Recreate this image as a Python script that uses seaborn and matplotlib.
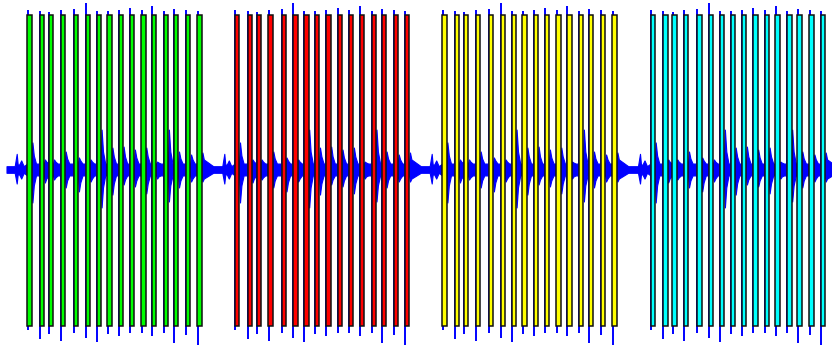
import numpy as np
import pandas as pd
import matplotlib
matplotlib.use("Agg")
import matplotlib.pyplot as plt
import seaborn as sns

# ---- data (time in seconds, amplitude in full-scale units) ----
onset_offsets = [0.000, 0.125, 0.216, 0.333, 0.465, 0.582, 0.692, 0.800,
                 0.912, 1.025, 1.139, 1.247, 1.365, 1.466, 1.587, 1.700]
loop_starts = [0.277, 2.353, 4.427, 6.510]
loop_names = ["loop 1", "loop 2", "loop 3", "loop 4"]
loop_colors = ["#00ff00", "#ff0000", "#ffff00", "#00ffff"]

spike_top = [0.970, 0.964, 0.958, 0.970, 0.976, 1.012, 0.964, 0.964,
             0.970, 0.982, 0.970, 0.994, 0.964, 0.976, 0.970, 0.964]
spike_bottom = [-0.970, -1.024, -0.994, -1.036, -0.988, -1.018, -1.042, -0.994,
                -1.006, -0.988, -0.988, -1.006, -0.988, -1.048, -1.000, -1.061]

peak_up = [0.164, 0.061, 0.061, 0.109, 0.073, 0.061, 0.242, 0.133,
           0.139, 0.121, 0.133, 0.048, 0.242, 0.109, 0.091, 0.103]
peak_down = [0.200, 0.079, 0.061, 0.109, 0.133, 0.073, 0.230, 0.152,
             0.091, 0.103, 0.145, 0.055, 0.194, 0.109, 0.073, 0.073]
shoulder_up = [0.085, 0.048, 0.048, 0.067, 0.055, 0.048, 0.109, 0.079,
               0.079, 0.073, 0.079, 0.042, 0.109, 0.067, 0.061, 0.061]
shoulder_down = [0.097, 0.055, 0.048, 0.067, 0.079, 0.055, 0.109, 0.085,
                 0.061, 0.067, 0.085, 0.042, 0.097, 0.067, 0.055, 0.055]

bar_top = 0.9415
bar_bottom = -0.9476
tail_level = 0.036
floor_level = 0.020
preroll_up = 0.095
preroll_down = 0.085
signal_start = 0.07
signal_end = 8.45

# ---- layout / style ----
sns.set_theme(style="white")
fig = plt.figure(figsize=(8.32, 3.45), dpi=100)
ax = fig.add_axes([0, 0, 1, 1])

# ---- waveform envelope ----
xs, ups, dns = [signal_start], [floor_level], [floor_level]
for s in loop_starts:
    xs += [s - 0.125, s - 0.105, s - 0.095, s - 0.08, s - 0.06, s - 0.035]
    ups += [floor_level, preroll_up, 0.030, 0.030, 0.055, floor_level]
    dns += [floor_level, preroll_down, 0.030, 0.030, 0.055, floor_level]
    for i, off in enumerate(onset_offsets):
        t = s + off
        last = i == len(onset_offsets) - 1
        xs += [t, t + 0.042, t + 0.052, t + 0.066, t + (0.160 if last else 0.088)]
        ups += [tail_level, tail_level, peak_up[i], shoulder_up[i],
                floor_level if last else tail_level]
        dns += [tail_level, tail_level, peak_down[i], shoulder_down[i],
                floor_level if last else tail_level]
xs.append(signal_end)
ups.append(floor_level)
dns.append(floor_level)
xs = np.array(xs)
ax.fill_between(xs, -np.array(dns), np.array(ups), color="#0000ff",
                linewidth=0.8, edgecolor="#0000ff", zorder=1)

# ---- onset spikes ----
on_t = [s + off for s in loop_starts for off in onset_offsets]
on_top = spike_top * len(loop_starts)
on_bot = spike_bottom * len(loop_starts)
ax.vlines(on_t, on_bot, on_top, color="#0000ff", linewidth=1.4, zorder=2)

# ---- onset bars (seaborn) ----
bar_center_shift = 0.019
bar_width = 0.044
bars = pd.DataFrame({
    "time": [t + bar_center_shift for t in on_t],
    "height": [bar_top - bar_bottom] * len(on_t),
    "loop": [n for n in loop_names for _ in onset_offsets],
})
native_w = np.diff(np.unique(bars["time"].values)).min()
sns.barplot(data=bars, x="time", y="height", hue="loop", hue_order=loop_names,
            palette=dict(zip(loop_names, loop_colors)), native_scale=True,
            orient="x", width=bar_width / native_w, saturation=1,
            errorbar=None, legend=False, ax=ax, bottom=bar_bottom,
            edgecolor="#111111", linewidth=1.1, zorder=3)

ax.set_xlim(0, 8.32)
ax.set_ylim(-1.0606, 1.0303)
ax.axis("off")
fig.savefig("out.png", dpi=100)
